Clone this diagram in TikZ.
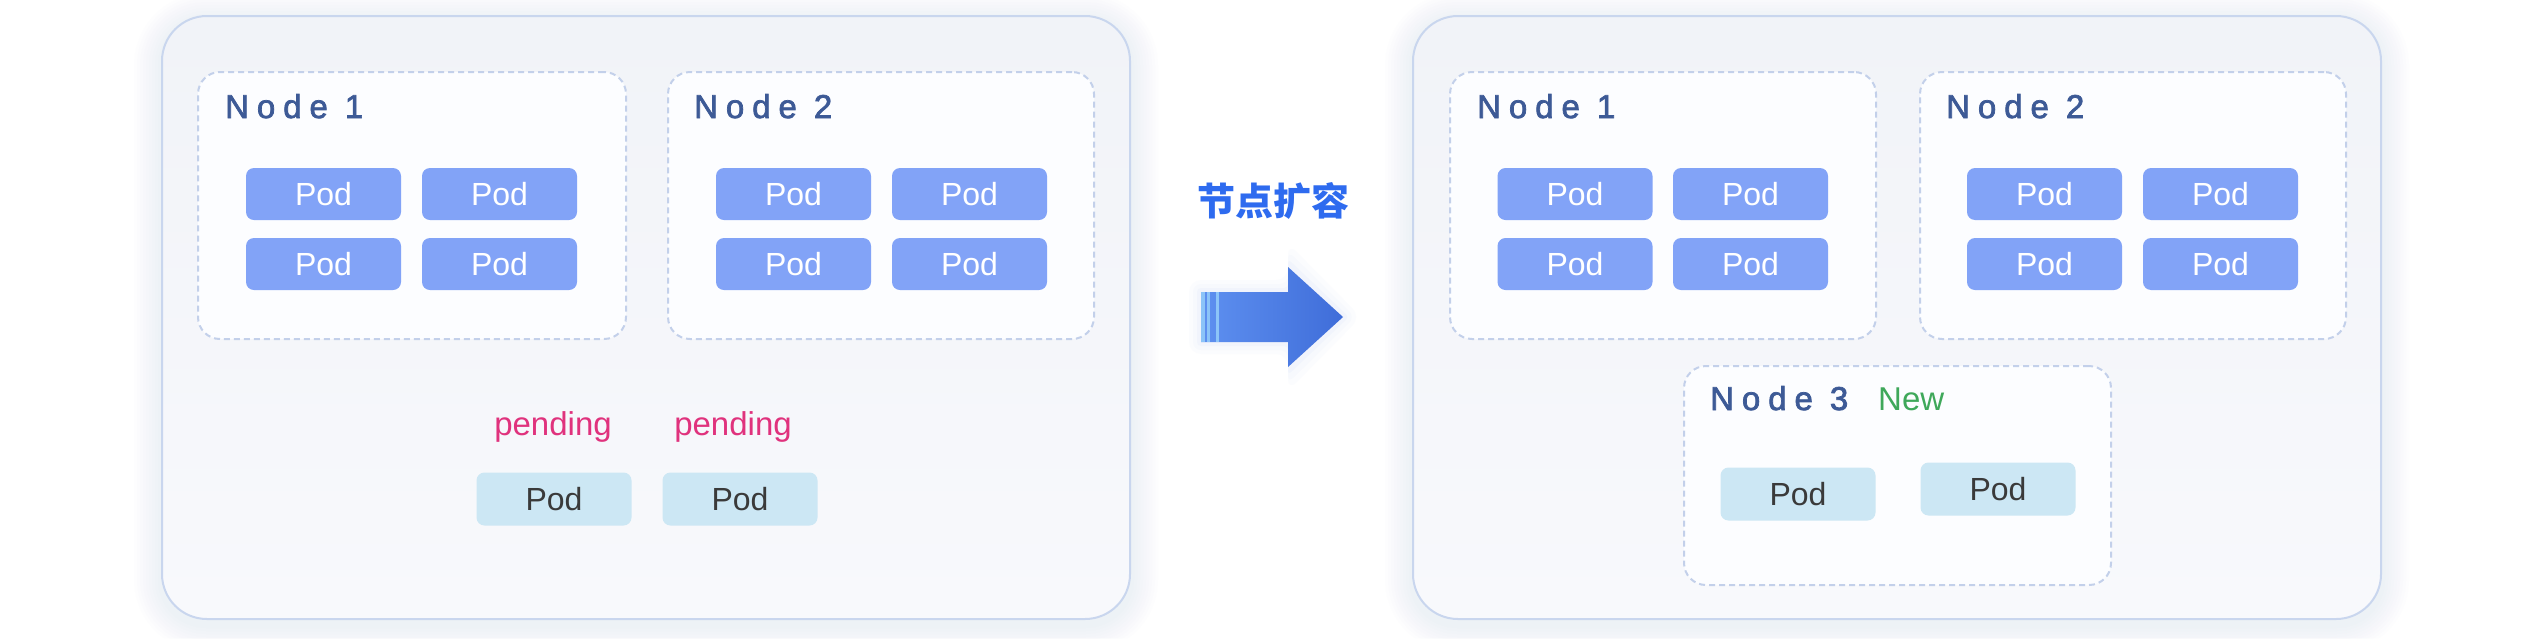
\documentclass[tikz,border=0pt]{standalone}
\usepackage{fontspec}
\setmainfont{Liberation Sans}
\newfontfamily\labfont[LetterSpace=24,FakeBold=2.2]{Liberation Sans}
\newfontfamily\cjkfont{Noto Sans CJK SC}
\usetikzlibrary{calc}
\pgfdeclarelayer{bgbase}
\pgfdeclarelayer{bgglow}
\pgfdeclarelayer{nodeglow}
\pgfsetlayers{bgbase,bgglow,nodeglow,main}
\definecolor{outerborder}{HTML}{C9D6EE}
\definecolor{outertop}{HTML}{F1F3F8}
\definecolor{outerbot}{HTML}{F8F9FC}
\definecolor{nodeborder}{HTML}{C3D0EA}
\definecolor{nodefill}{HTML}{FCFDFF}
\definecolor{podblue}{HTML}{82A3F7}
\definecolor{podlight}{HTML}{CCE7F4}
\definecolor{podtext}{HTML}{3A3A3A}
\definecolor{labelblue}{HTML}{3D5A96}
\definecolor{pendpink}{HTML}{E0327D}
\definecolor{newgreen}{HTML}{3FA85A}
\definecolor{arrowtext}{HTML}{2E6BEF}
\definecolor{arrowleft}{HTML}{5E90F0}
\definecolor{arrowright}{HTML}{3F6DD9}
\definecolor{arrowstripe}{HTML}{8CC4F8}
\definecolor{arrowglow}{HTML}{C9D8FA}
\definecolor{glowcol}{HTML}{AEB8CC}
\tikzset{
  outerbox/.style={draw=outerborder, line width=2pt, rounded corners=45pt,
    top color=outertop, bottom color=outerbot, minimum width=968pt, minimum height=603pt,
    inner sep=0pt},
  nodebox/.style={draw=nodeborder, line width=2pt, dash pattern=on 6pt off 4pt,
    rounded corners=22pt, fill=nodefill, inner sep=0pt},
  podb/.style={rounded corners=8pt, fill=podblue, text=white, minimum width=155pt,
    minimum height=52pt, inner sep=0pt, font=\fontsize{32}{38}\selectfont},
  podl/.style={rounded corners=8pt, fill=podlight, text=podtext, minimum width=155pt,
    minimum height=53pt, inner sep=0pt, font=\fontsize{32}{38}\selectfont},
  nodelabel/.style={anchor=base west, inner sep=0pt, text=labelblue,
    font=\labfont\fontsize{33}{40}\selectfont},
  pendlabel/.style={anchor=base, inner sep=0pt, text=pendpink, font=\fontsize{33}{40}\selectfont},
  newlabel/.style={anchor=base west, inner sep=0pt, text=newgreen, font=\fontsize{33}{40}\selectfont},
  actionlabel/.style={inner sep=0pt, text=arrowtext, font=\cjkfont\bfseries\fontsize{38}{44}\selectfont},
  glowlayer/.style={fill=glowcol, fill opacity=#1}
}
% soft glow behind a named box: node name, corner radius, max spread, vertical shift, opacity
\newcommand{\softglow}[5]{%
  \foreach \s in {3,6,...,#3}{%
    \fill[glowlayer=#5, rounded corners=#2+\s*1pt]
      ($(#1.north west)+(-\s,-\s+#4)$) rectangle ($(#1.south east)+(\s,\s+#4)$);
  }%
}
\begin{document}
\begin{tikzpicture}[x=1pt,y=-1pt]
\useasboundingbox (0,0) rectangle (2542,638);
\begin{pgfonlayer}{bgbase}
\fill[white] (0,0) rectangle (2542,638);
\end{pgfonlayer}

% ---------- left cluster ----------
\node[outerbox] (L) at (646,317.5) {};
\node[nodebox, minimum width=428pt, minimum height=267pt] (LN1) at (412,205.5) {};
\node[nodebox, minimum width=426pt, minimum height=267pt] (LN2) at (881,205.5) {};
\node[nodelabel] (LN1t) at (225,118) {Node 1};
\node[nodelabel] (LN2t) at (694,118) {Node 2};
\node[podb] (LA1) at (323.5,194) {Pod};
\node[podb] (LA2) at (499.5,194) {Pod};
\node[podb] (LA3) at (323.5,264) {Pod};
\node[podb] (LA4) at (499.5,264) {Pod};
\node[podb] (LB1) at (793.5,194) {Pod};
\node[podb] (LB2) at (969.5,194) {Pod};
\node[podb] (LB3) at (793.5,264) {Pod};
\node[podb] (LB4) at (969.5,264) {Pod};
\node[pendlabel] (P1t) at (553,435) {pending};
\node[pendlabel] (P2t) at (733,435) {pending};
\node[podl] (P1) at (554,499) {Pod};
\node[podl] (P2) at (740,499) {Pod};

% ---------- arrow ----------
\node[actionlabel] (act) at (1273,201) {节点扩容};
\coordinate (a0) at (1201,292);
\coordinate (a1) at (1288,292);
\coordinate (a2) at (1288,267);
\coordinate (tip) at (1343,317);
\coordinate (a4) at (1288,367);
\coordinate (a5) at (1288,342);
\coordinate (a6) at (1201,342);
\foreach \g/\o in {12/0.06,8/0.08,4/0.12}{
  \fill[arrowglow, opacity=\o, rounded corners=\g pt]
    ($(a0)+(-\g,-\g)$) -- ($(a1)+(0,-\g)$) -- ($(a2)+(0,-2*\g)$) -- ($(tip)+(1.5*\g,0)$)
    -- ($(a4)+(0,2*\g)$) -- ($(a5)+(0,\g)$) -- ($(a6)+(-\g,\g)$) -- cycle;
}
\shade[left color=arrowleft, right color=arrowright]
  (a0) -- (a1) -- (a2) -- (tip) -- (a4) -- (a5) -- (a6) -- cycle;
\fill[arrowstripe] (1201,292) rectangle (1205,342);
\fill[arrowstripe] (1207,292) rectangle (1209.5,342);
\fill[arrowstripe] (1216,292) rectangle (1218.5,342);

% ---------- right cluster ----------
\node[outerbox] (R) at (1897,317.5) {};
\node[nodebox, minimum width=426pt, minimum height=267pt] (RN1) at (1663,205.5) {};
\node[nodebox, minimum width=426pt, minimum height=267pt] (RN2) at (2133,205.5) {};
\node[nodebox, minimum width=427pt, minimum height=219pt] (RN3) at (1897.5,475.5) {};
\node[nodelabel] (RN1t) at (1477,118) {Node 1};
\node[nodelabel] (RN2t) at (1946,118) {Node 2};
\node[nodelabel] (RN3t) at (1710,410) {Node 3};
\node[newlabel] (newt) at (1878,410) {New};
\node[podb] (RA1) at (1575,194) {Pod};
\node[podb] (RA2) at (1750.5,194) {Pod};
\node[podb] (RA3) at (1575,264) {Pod};
\node[podb] (RA4) at (1750.5,264) {Pod};
\node[podb] (RB1) at (2044.5,194) {Pod};
\node[podb] (RB2) at (2220.5,194) {Pod};
\node[podb] (RB3) at (2044.5,264) {Pod};
\node[podb] (RB4) at (2220.5,264) {Pod};
\node[podl] (N1) at (1798,494) {Pod};
\node[podl] (N2) at (1998,489) {Pod};

% ---------- soft shadows ----------
\begin{pgfonlayer}{bgglow}
\softglow{L}{45pt}{27}{5}{0.016}
\softglow{R}{45pt}{27}{5}{0.016}
\end{pgfonlayer}
\begin{pgfonlayer}{nodeglow}
\softglow{LN1}{22pt}{15}{4}{0.012}
\softglow{LN2}{22pt}{15}{4}{0.012}
\softglow{RN1}{22pt}{15}{4}{0.012}
\softglow{RN2}{22pt}{15}{4}{0.012}
\softglow{RN3}{22pt}{15}{4}{0.012}
\end{pgfonlayer}
\end{tikzpicture}
\end{document}
